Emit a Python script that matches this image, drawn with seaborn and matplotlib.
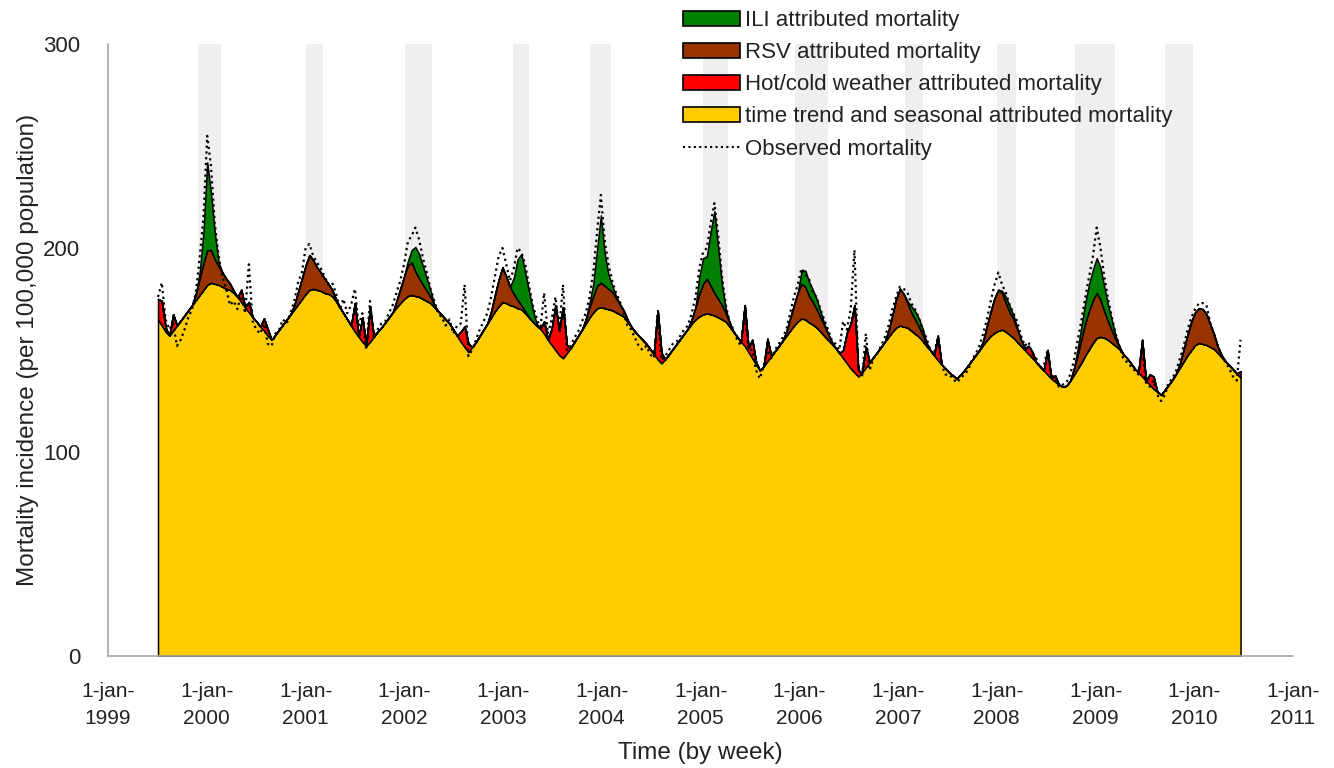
import numpy as np
import pandas as pd
import matplotlib
matplotlib.use("Agg")
import matplotlib.pyplot as plt
from matplotlib.patches import Patch
from matplotlib.lines import Line2D
import matplotlib.dates as mdates
import seaborn as sns

sns.set_theme(style="white")
plt.rcParams['font.family'] = ['Liberation Sans', 'DejaVu Sans']

# fortnightly time points, starting 5 July 1999
start_date = "1999-07-05"
n_points = 287

# time trend and seasonal part (per 100,000), one value per fortnight
baseline = [
    165, 162, 159, 157, 159.5, 162, 164.5, 167, 169.5, 172, 174.5, 177, 179.5,
    182, 183, 182.5, 182, 181, 180, 179.5, 178, 176, 173.5, 171, 168.5, 166,
    164, 161.5, 159.5, 157, 155, 157.5, 160, 162.5, 165, 167.5, 170, 172.5, 175,
    177.5, 179.5, 180, 179.5, 179, 178, 177.5, 176.5, 174, 171, 168, 165, 162,
    159, 156.5, 154, 152, 154, 156.5, 159, 161, 163.5, 166, 168.5, 171, 173,
    175, 176.5, 177, 176.5, 176, 175, 174, 173, 171, 169, 167, 165, 163,
    160, 157, 154, 151.5, 149, 151.5, 154, 157, 160, 163, 166, 169, 171.5,
    173.5, 173, 172, 171.5, 170.5, 170, 168, 166, 164, 162, 160.5, 158, 155,
    152.5, 150, 147.5, 146, 148.5, 151, 154, 157, 160, 163, 166, 168.5, 170.5,
    171, 170.5, 170, 169.5, 168.5, 167.5, 166.5, 164, 161.5, 159, 157, 155, 153,
    150.5, 148, 145.5, 143.5, 145.5, 148, 150.5, 153, 155.5, 158, 160.5, 163, 165,
    166.5, 167.5, 168, 167.5, 167, 166, 165, 164, 161.5, 159, 156.5, 154, 152,
    149, 146, 143, 140, 142, 144.5, 147, 149.5, 152, 154.5, 157, 159.5, 162,
    164, 165.5, 165, 163.5, 162.5, 161, 159, 157, 155, 153, 151, 148.5, 146,
    143.5, 141, 139, 137, 139, 141.5, 144, 146.5, 149, 151.5, 154, 156.5, 159,
    161, 162, 161.5, 161, 159.5, 158, 156.5, 154.5, 152, 150, 147.5, 145, 143,
    141, 139, 137.5, 136, 138, 140, 142.5, 145, 147.5, 150, 152.5, 155, 157,
    158.5, 159.5, 160, 159, 157.5, 156, 154, 152, 150, 148, 146, 144, 142,
    140, 138, 136, 134.5, 133, 132, 132.5, 135, 138, 141, 144, 147.5, 150.5,
    153.5, 156, 156.5, 156, 155, 153.5, 152, 150.5, 148, 146, 143.5, 141, 139,
    137, 135, 133, 131, 129.5, 128, 130.5, 133, 135.5, 138.5, 141.5, 144.5, 147.5,
    150, 152.5, 153.5, 153, 152.5, 151.5, 150.5, 148.5, 146.5, 144.5, 142.5, 140.5, 138.5,
    136.5,
]

# observed mortality (per 100,000), one value per fortnight
observed = [
    176, 183, 165, 160, 163, 152, 155, 160, 166, 170, 178, 195, 215,
    255, 240, 212, 196, 186, 180, 172, 174, 170, 178, 168, 192, 164,
    160, 158, 163, 153, 152, 158, 160, 165, 163, 168, 174, 183, 188,
    200, 202, 196, 193, 190, 186, 182, 183, 178, 170, 175, 168, 172,
    180, 162, 168, 150, 174, 156, 160, 163, 164, 168, 172, 178, 184,
    192, 203, 206, 210, 204, 195, 188, 180, 174, 168, 166, 162, 165,
    158, 162, 163, 182, 147, 150, 155, 160, 164, 168, 176, 186, 196,
    200, 192, 184, 190, 200, 198, 192, 182, 172, 166, 160, 178, 158,
    165, 176, 160, 182, 150, 152, 156, 159, 164, 168, 176, 188, 208,
    226, 204, 192, 184, 178, 174, 168, 162, 160, 156, 152, 150, 152,
    148, 146, 168, 145, 147, 150, 153, 154, 157, 160, 162, 168, 176,
    190, 198, 200, 212, 222, 206, 186, 172, 164, 160, 155, 152, 168,
    150, 150, 140, 136, 142, 150, 146, 150, 153, 156, 160, 168, 176,
    182, 190, 187, 185, 178, 176, 170, 165, 160, 155, 153, 150, 164,
    160, 170, 199, 142, 137, 158, 140, 146, 148, 152, 156, 162, 170,
    176, 181, 180, 178, 173, 170, 166, 160, 156, 150, 148, 156, 143,
    138, 138, 136, 134, 136, 138, 140, 145, 148, 152, 158, 165, 174,
    182, 188, 182, 178, 172, 168, 164, 157, 152, 154, 148, 146, 141,
    142, 150, 138, 136, 132, 133, 134, 138, 145, 155, 165, 176, 186,
    196, 210, 200, 186, 175, 166, 158, 152, 146, 144, 142, 140, 138,
    150, 134, 132, 135, 128, 125, 128, 134, 136, 140, 146, 152, 160,
    166, 170, 173, 173, 172, 163, 158, 152, 147, 144, 141, 137, 135,
    155,
]

# hot/cold weather spikes: fortnight index and size
weather_idx = [0, 1, 2, 4, 22, 24, 28, 29, 52, 54, 56, 80, 81, 82,
               102, 104, 105, 106, 107, 108, 132, 133, 155, 156, 157, 158, 161,
               181, 182, 183, 184, 185, 187, 206, 230, 231, 235, 237,
               260, 262, 263, 286]
weather_val = [10, 12, 2, 8, 6, 5, 6, 3, 14, 12, 17, 5, 10, 4,
               6, 8, 22, 12, 25, 4, 24, 5, 20, 2, 9, 1, 11,
               4, 15, 22, 33, 3, 10, 12, 4, 3, 12, 3,
               18, 5, 6, 3]

# RSV seasons: first fortnight index -> values
rsv_seasons = {
    10: [3, 8, 13, 17, 16, 12, 9, 7, 5, 3, 1],
    36: [2, 6, 10, 14, 17, 14, 11, 9, 7, 5, 3, 1],
    63: [3, 7, 11, 15, 16, 12, 9, 7, 5, 3, 1],
    88: [3, 8, 13, 17, 13, 9, 6, 4, 2, 1],
    113: [2, 5, 8, 11, 12, 11, 10, 9, 7, 5, 3, 1],
    141: [2, 6, 11, 15, 17, 14, 11, 9, 7, 4, 2],
    166: [2, 6, 10, 14, 17, 16, 13, 11, 9, 7, 5, 3, 1],
    193: [3, 8, 14, 18, 16, 12, 9, 7, 5, 3, 1],
    218: [2, 7, 12, 17, 20, 18, 14, 11, 9, 6, 3, 1],
    242: [3, 7, 12, 16, 19, 21, 22, 18, 13, 9, 6, 3, 1],
    270: [2, 6, 10, 14, 16, 17, 17, 15, 11, 7, 3, 1],
}

# ILI seasons: first fortnight index -> values
ili_seasons = {
    11: [3, 15, 43, 28, 13, 2],
    66: [2, 6, 12, 12, 9, 6, 3],
    94: [8, 20, 25, 19, 13, 6, 1],
    114: [2, 6, 18, 33, 16, 7, 3, 1],
    143: [8.5, 12.5, 11, 26.5, 40, 25, 10, 2],
    170: [6, 8, 7, 6, 5, 3, 1],
    198: [1, 3, 4, 4, 3, 1],
    223: [1, 3, 3, 2, 1],
    243: [3, 6, 10, 13, 15, 17, 16, 12, 8, 5, 2],
}

# shaded influenza periods
band_start = ["1999-12-01", "2001-01-01", "2002-01-04", "2003-02-06", "2003-11-17",
              "2005-01-08", "2005-12-15", "2007-01-26", "2008-01-04", "2008-10-16",
              "2009-09-13"]
band_end = ["2000-02-24", "2001-03-08", "2002-04-13", "2003-04-09", "2004-02-06",
            "2005-04-13", "2006-04-16", "2007-04-02", "2008-03-14", "2009-03-14",
            "2009-12-28"]

years = list(range(1999, 2012))

# build the series
dates = pd.date_range(start_date, periods=n_points, freq="14D")
weather = np.zeros(n_points)
weather[weather_idx] = weather_val
rsv = np.zeros(n_points)
for s, vals in rsv_seasons.items():
    rsv[s:s + len(vals)] = vals
ili = np.zeros(n_points)
for s, vals in ili_seasons.items():
    ili[s:s + len(vals)] = vals

col_yellow = "#FFCC00"
col_red = "#FF0000"
col_brown = "#993300"
col_green = "#008000"
txt = "#222222"

fig = plt.figure(figsize=(13.34, 7.68), dpi=100)
ax = fig.add_axes([108 / 1334, 1 - 656 / 768, 1185 / 1334, 612 / 768])

for b0, b1 in zip(band_start, band_end):
    ax.axvspan(pd.Timestamp(b0), pd.Timestamp(b1), color="#EFEFEF", lw=0, zorder=0)

ax.stackplot(dates, baseline, weather, rsv, ili,
             colors=[col_yellow, col_red, col_brown, col_green],
             edgecolor="black", linewidth=1.1, zorder=2)

sns.lineplot(x=dates, y=observed, ax=ax, color="black", linewidth=1.6,
             linestyle=(0, (1.0, 1.6)), zorder=3)

ax.set_ylim(0, 300)
ax.set_xlim(pd.Timestamp("1999-01-01"), pd.Timestamp("2011-01-01"))
ax.set_yticks([0, 100, 200, 300])
ax.set_xticks([pd.Timestamp(f"{y}-01-01") for y in years])
ax.set_xticklabels([f"1-jan-\n{y}" for y in years], linespacing=1.5)
ax.xaxis.set_minor_locator(mdates.MonthLocator(bymonth=7))

ax.tick_params(axis="both", which="both", direction="out", length=6, width=1,
               color="#a0a0a0", labelsize=15, labelcolor=txt)
ax.tick_params(axis="x", which="major", pad=13)
ax.tick_params(axis="y", pad=14, labelsize=16)

for side in ["top", "right"]:
    ax.spines[side].set_visible(False)
for side in ["left", "bottom"]:
    ax.spines[side].set_color("#a6a6a6")
    ax.spines[side].set_linewidth(1.2)

ax.set_xlabel("Time (by week)", fontsize=17.5, color=txt)
ax.set_ylabel("Mortality incidence (per 100,000 population)", fontsize=17.5, color=txt)
ax.xaxis.set_label_coords(0.5, -0.141)
ax.yaxis.set_label_coords(-0.058, 0.5)

handles = [
    Patch(facecolor=col_green, edgecolor="black", linewidth=1.2),
    Patch(facecolor=col_brown, edgecolor="black", linewidth=1.2),
    Patch(facecolor=col_red, edgecolor="black", linewidth=1.2),
    Patch(facecolor=col_yellow, edgecolor="black", linewidth=1.2),
    Line2D([0], [0], color="black", linewidth=1.5, linestyle=(0, (1.0, 1.6))),
]
labels = ["ILI attributed mortality", "RSV attributed mortality",
          "Hot/cold weather attributed mortality",
          "time trend and seasonal attributed mortality", "Observed mortality"]
fig.legend(handles, labels, loc="upper left", bbox_to_anchor=(672 / 1334, 1 + 1 / 768),
           frameon=False, fontsize=16, labelcolor=txt, borderpad=0,
           handlelength=2.55, handleheight=0.7, handletextpad=0.25, labelspacing=0.5)

fig.savefig("out.png", dpi=100, facecolor="white")
